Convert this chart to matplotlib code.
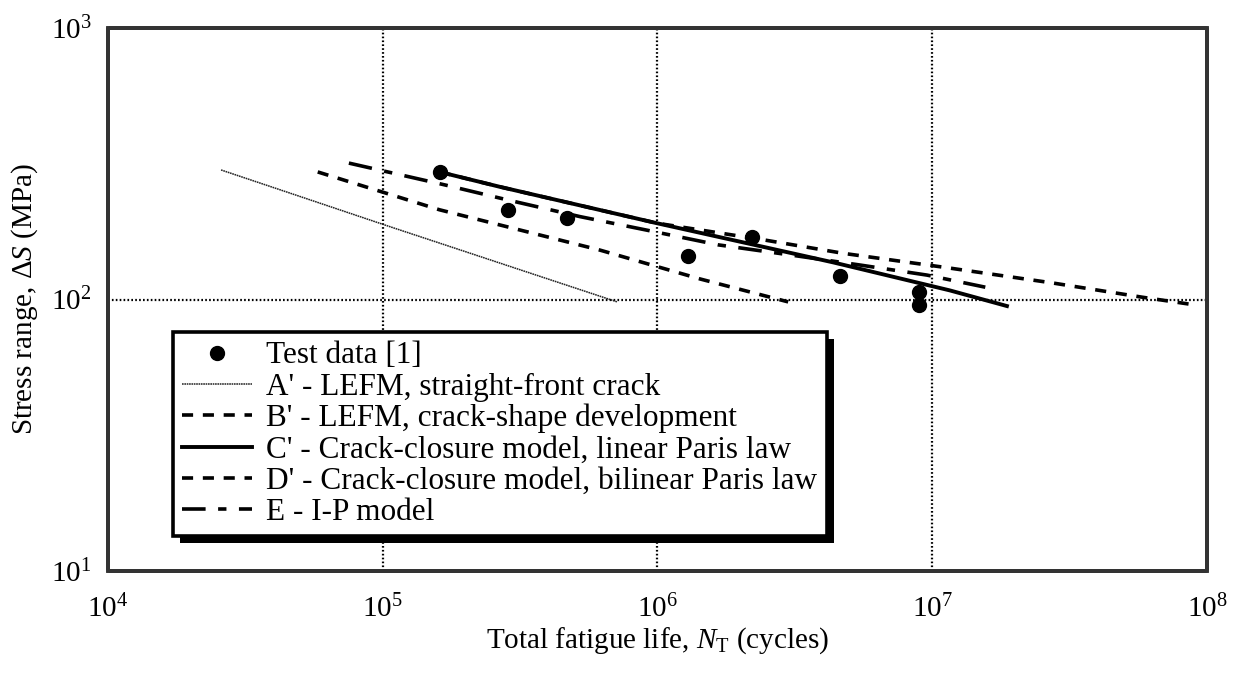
import matplotlib
matplotlib.use("Agg")
import matplotlib.pyplot as plt
from matplotlib.patches import Rectangle

plt.rcParams["font.family"] = ["Liberation Serif", "DejaVu Serif"]
plt.rcParams["mathtext.fontset"] = "custom"
plt.rcParams["mathtext.rm"] = "Liberation Serif"
plt.rcParams["mathtext.it"] = "Liberation Serif:italic"
plt.rcParams["lines.scale_dashes"] = False

# test data [1]
test_n = [1.61e5, 2.86e5, 4.69e5, 1.29e6, 2.21e6, 4.61e6, 8.95e6, 8.95e6]
test_s = [295, 214, 199.5, 144.6, 170, 122, 106.6, 95.5]

# A' - LEFM, straight-front crack
a_n = [2.58e4, 1.02e5, 7.13e5]
a_s = [300, 188, 98]

# B' - LEFM, crack-shape development
b_n = [5.8e4, 1.61e5, 6.18e5, 1.43e6, 2.99e6]
b_s = [295, 214, 152, 119, 98]

# C' - crack-closure model, linear Paris law
c_n = [1.61e5, 2.67e5, 9.95e5, 4.36e6, 1.16e7, 1.87e7]
c_s = [295, 260, 191, 137, 108, 94.6]

# D' - crack-closure model, bilinear Paris law
d_n = [1.61e5, 2.67e5, 9.95e5, 2.42e6, 4.73e6, 1.13e7, 2.75e7, 5.8e7, 9.04e7]
d_s = [295, 260, 191, 166, 148, 131, 115, 102, 95.5]

# E - I-P model
e_n = [7.53e4, 1.69e5, 2.83e5, 5.22e5, 9.16e5, 1.66e6, 3.03e6, 5.45e6, 9.57e6, 1.56e7]
e_s = [318, 264, 233, 202, 180, 159, 146, 134, 123, 111]

fig = plt.figure(figsize=(12.41, 6.81), dpi=100)
ax = fig.add_axes([0.087, 0.1615, 0.8856, 0.7974])

ax.plot(a_n, a_s, color="#222222", lw=1.1, linestyle=(0, (1.2, 0.5)),
        label="A' - LEFM, straight-front crack")
ax.plot(b_n, b_s, color="black", lw=2.6, linestyle=(0, (8, 7)),
        label="B' - LEFM, crack-shape development")
ax.plot(c_n, c_s, color="black", lw=2.8, label="C' - Crack-closure model, linear Paris law")
ax.plot(d_n, d_s, color="black", lw=2.6, linestyle=(0, (8, 7)),
        label="D' - Crack-closure model, bilinear Paris law")
ax.plot(e_n, e_s, color="black", lw=2.6, linestyle=(0, (17, 9, 6, 9)),
        label="E - I-P model")
ax.plot(test_n, test_s, "o", color="black", ms=10, label="Test data [1]", zorder=5)

ax.set_xscale("log")
ax.set_yscale("log")
ax.set_xlim(1e4, 1e8)
ax.set_ylim(1e1, 1e3)
ax.minorticks_off()
ax.tick_params(length=0, labelsize=21)
ax.tick_params(axis="x", pad=17)
ax.tick_params(axis="y", pad=12)
ax.grid(True, which="major", color="black", linestyle=(0, (1.2, 1.6)), lw=1.6)
for sp in ax.spines.values():
    sp.set_linewidth(2.6)
    sp.set_color("#333333")
    sp.set_linestyle((0, (1.4, 0.6)))

ax.set_xlabel(r"Total fatigue life, $N_\mathrm{T}$ (cycles)", fontsize=21)
ax.set_ylabel(r"Stress range, $\Delta S$ (MPa)", fontsize=21)
ax.xaxis.set_label_coords(0.5, -0.1)
ax.yaxis.set_label_coords(-0.062, 0.5)

handles, labels = ax.get_legend_handles_labels()
order = [5, 0, 1, 2, 3, 4]
leg = ax.legend([handles[i] for i in order], [labels[i] for i in order],
                loc="upper left", bbox_to_anchor=(0.059, 0.44), borderaxespad=0,
                fontsize=22.5, handlelength=2.24, handletextpad=0.45, labelspacing=0.07,
                borderpad=0.3, fancybox=False, framealpha=1, edgecolor="black")
leg.get_frame().set_linewidth(2.6)
leg.set_zorder(10)

# drop shadow behind the legend frame
fig.canvas.draw()
bb = leg.get_window_extent()
ax.add_artist(Rectangle((bb.x0 + 7, bb.y0 - 7), bb.width, bb.height, transform=None,
                        facecolor="black", edgecolor="none", zorder=9))

fig.savefig("out.png", dpi=100)
